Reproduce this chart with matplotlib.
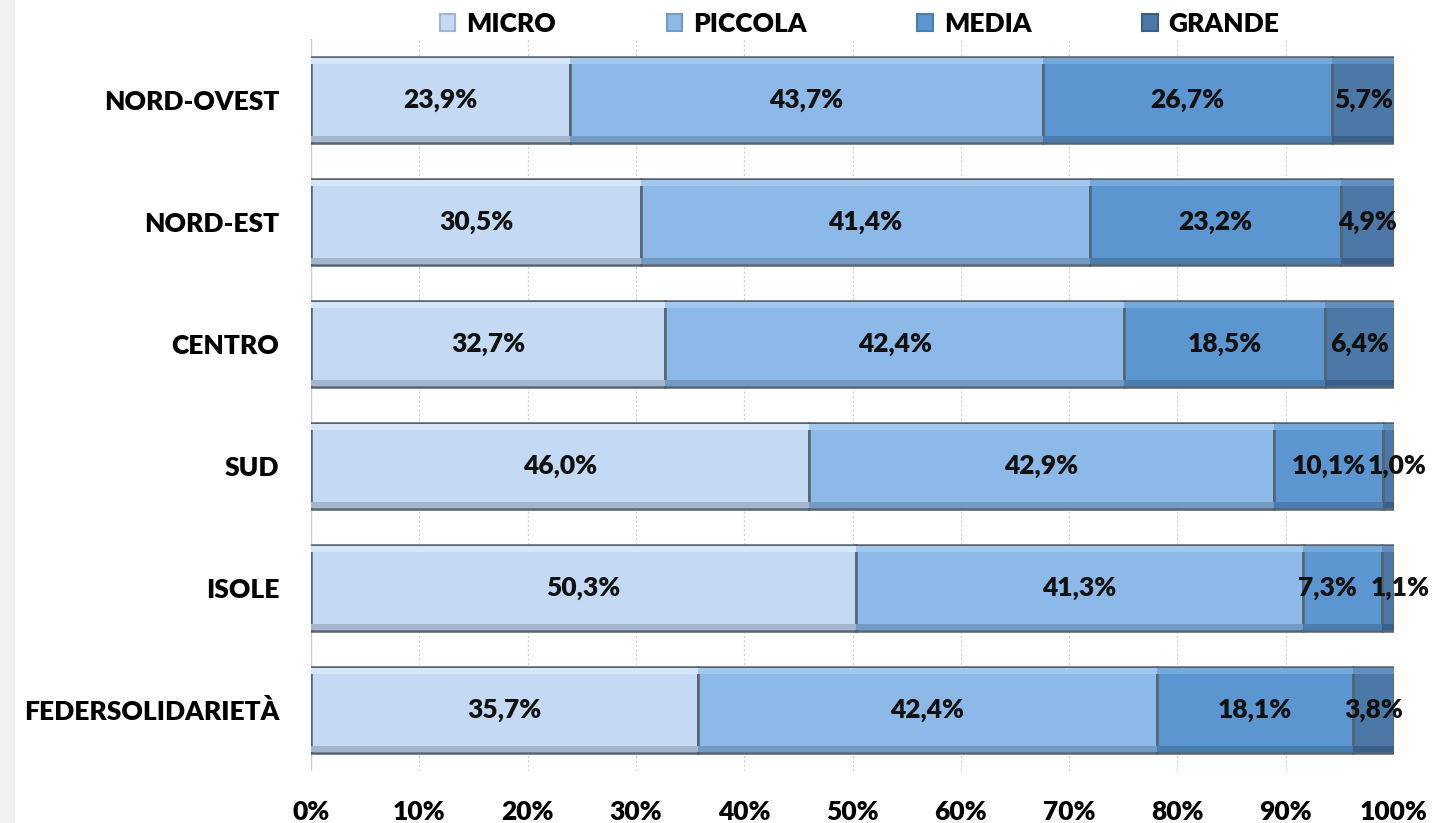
import matplotlib
matplotlib.use("Agg")
import matplotlib.pyplot as plt
from matplotlib.patches import Rectangle
import numpy as np

categories = ["NORD-OVEST", "NORD-EST", "CENTRO", "SUD", "ISOLE", "FEDERSOLIDARIETÀ"]
series_names = ["MICRO", "PICCOLA", "MEDIA", "GRANDE"]
micro = [23.9, 30.5, 32.7, 46.0, 50.3, 35.7]
piccola = [43.7, 41.4, 42.4, 42.9, 41.3, 42.4]
media = [26.7, 23.2, 18.5, 10.1, 7.3, 18.1]
grande = [5.7, 4.9, 6.4, 1.0, 1.1, 3.8]
xticks = [0, 10, 20, 30, 40, 50, 60, 70, 80, 90, 100]

colors = ["#C4DAF4", "#8DB9E8", "#5B96D0", "#4B78A6"]
light = ["#D6E6F9", "#A3C8EF", "#74A9DC", "#6190BE"]
dark = ["#A4B6CC", "#7499C2", "#4A7DAE", "#3A6088"]

plt.rcParams['font.family'] = ['Lato', 'DejaVu Sans']
fig = plt.figure(figsize=(14.47, 8.23), dpi=100)
fig.patch.set_facecolor("white")
ax = fig.add_axes([311/1447, 1-771/823, (1394-311)/1447, (771-39)/823])

# label nudges (points) where neighbouring labels would collide
nudge = {(4, 2): -11, (4, 3): 9, (3, 3): 6}

y = np.arange(len(categories))
h = 0.70
data = [micro, piccola, media, grande]
left = np.zeros(len(categories))
handles = []
for i, vals in enumerate(data):
    vals = np.array(vals)
    b = ax.barh(y, vals, left=left, height=h, color=colors[i],
                edgecolor="#56626F", linewidth=1.8, zorder=3, label=series_names[i])
    handles.append(b)
    # bevel highlights
    ax.barh(y - h/2 + 0.03, vals, left=left, height=0.045, color=light[i],
            linewidth=0, zorder=3.5)
    ax.barh(y + h/2 - 0.03, vals, left=left, height=0.045, color=dark[i],
            linewidth=0, zorder=3.5)
    for j, v in enumerate(vals):
        ax.annotate(f"{v:.1f}%".replace(".", ","), (left[j] + v/2, y[j]),
                    xytext=(nudge.get((j, i), 0), 0), textcoords="offset points",
                    ha="center", va="center", fontsize=19, fontweight="heavy",
                    color="#111111", zorder=5)
    left += vals

ax.set_xlim(0, 100)
ax.set_ylim(len(categories) - 0.5, -0.5)
ax.set_yticks(y)
ax.set_yticklabels(categories, fontsize=19, fontweight="heavy")
ax.set_xticks(xticks)
ax.set_xticklabels([f"{t}%" for t in xticks], fontsize=19, fontweight="heavy")
ax.tick_params(axis="y", length=0, pad=23)
ax.tick_params(axis="x", length=0, pad=21)
for s in ax.spines.values():
    s.set_visible(False)
ax.grid(axis="x", color="#D0D0D0", linestyle=(0, (2, 2)), linewidth=0.8, zorder=0)
ax.axvline(0, color="#C8C8C8", linewidth=1.0, zorder=1)

legend_handles = [Rectangle((0, 0), 1, 1, facecolor=colors[i], edgecolor=dark[i], linewidth=1.5)
                  for i in range(4)]
leg = fig.legend(handles=legend_handles, labels=series_names, loc="center",
                 bbox_to_anchor=(0.594, 1-24/823), ncol=4, frameon=False,
                 prop={'family': ['Lato', 'DejaVu Sans'], 'weight': 'heavy', 'size': 19},
                 handlelength=0.6, handleheight=0.6, columnspacing=4.2, handletextpad=0.4)

# light gray frame at the left edge
fig.patches.append(Rectangle((0, 0), 14/1447, 1, transform=fig.transFigure,
                             color="#F0F0F0", zorder=0))
fig.savefig("out.png", dpi=100, facecolor="white")
